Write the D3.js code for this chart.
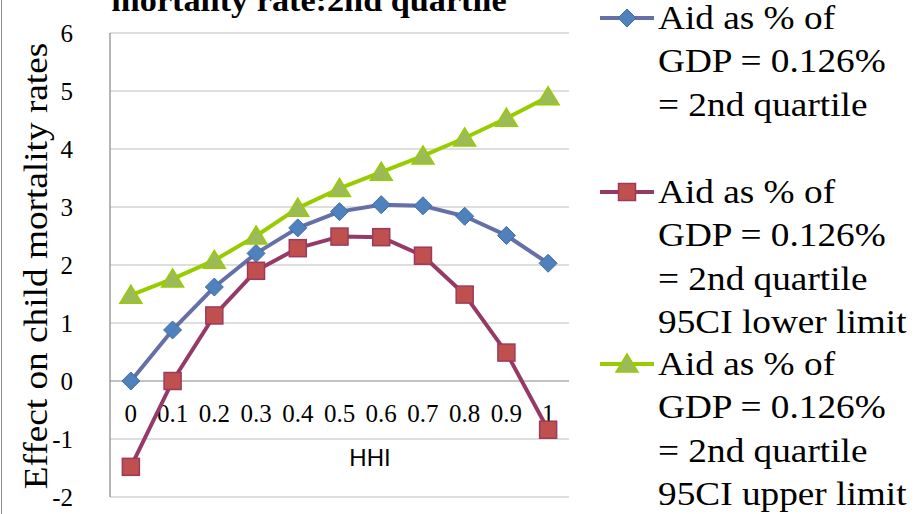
<!DOCTYPE html>
<html><head><meta charset="utf-8">
<script src="https://cdn.jsdelivr.net/npm/d3@7"></script>
<style>body{margin:0;background:#fff}svg{display:block}</style>
</head><body>
<svg id="c" width="922" height="514"></svg>
<script>
const categories = ["0","0.1","0.2","0.3","0.4","0.5","0.6","0.7","0.8","0.9","1"];
const seriesMain  = [0, 0.88, 1.62, 2.20, 2.64, 2.92, 3.04, 3.02, 2.84, 2.51, 2.03];
const seriesLower = [-1.48, 0, 1.13, 1.90, 2.29, 2.49, 2.48, 2.16, 1.49, 0.49, -0.84];
const seriesUpper = [1.48, 1.76, 2.08, 2.50, 2.98, 3.32, 3.60, 3.88, 4.19, 4.53, 4.90];
const yTicks = [-2,-1,0,1,2,3,4,5,6];
const legendLabels = [
  ["Aid as % of","GDP = 0.126%","= 2nd quartile"],
  ["Aid as % of","GDP = 0.126%","= 2nd quartile","95CI lower limit"],
  ["Aid as % of","GDP = 0.126%","= 2nd quartile","95CI upper limit"]
];
const titleText = "mortality rate:2nd quartile";
const yTitle = "Effect on child mortality rates";
const xTitle = "HHI";

const series = [
  {values: seriesMain,  line:"#6670A8", fill:"#4F81BD", stroke:"#3F6CA8", shape:"diamond"},
  {values: seriesLower, line:"#953A66", fill:"#C0504D", stroke:"#9B3A5E", shape:"square"},
  {values: seriesUpper, line:"#99CC00", fill:"#9BBB59", stroke:"#99CC00", shape:"triangle"}
];

const svg = d3.select("#c");
const serif = "'Liberation Serif','Times New Roman',serif";
const L=110, R=569, T=33, B=497;
const x = d3.scaleBand().domain(categories).range([L,R]);
const y = d3.scaleLinear().domain([-2,6]).range([B,T]);
const cx = c => x(c) + x.bandwidth()/2;

// chart border (left edge)
svg.append("line").attr("x1",1.5).attr("x2",1.5).attr("y1",0).attr("y2",514).attr("stroke","#8c8c8c").attr("stroke-width",1);

// gridlines
svg.append("g").selectAll("line").data(yTicks).join("line")
  .attr("x1",L).attr("x2",R).attr("y1",d=>y(d)).attr("y2",d=>y(d))
  .attr("stroke",d=>d===0?"#868686":"#bdbdbd").attr("stroke-width",1.2);
// left axis line
svg.append("line").attr("x1",L).attr("x2",L).attr("y1",T).attr("y2",B).attr("stroke","#868686").attr("stroke-width",1.2);

// y tick labels
svg.append("g").selectAll("text").data(yTicks).join("text")
  .attr("x",73).attr("y",d=>y(d)).attr("dy","0.35em").attr("text-anchor","end")
  .attr("font-family",serif).attr("font-size",25).attr("fill","#000").text(d=>d);

// x tick labels
svg.append("g").selectAll("text").data(categories).join("text")
  .attr("x",d=>cx(d)).attr("y",y(0)+41).attr("text-anchor","middle")
  .attr("font-family",serif).attr("font-size",25).attr("fill","#000").text(d=>d);

// axis titles
svg.append("text").attr("x",370).attr("y",466).attr("text-anchor","middle")
  .attr("font-family","'Liberation Sans',Arial,sans-serif").attr("font-size",24).text(xTitle);
svg.append("text").attr("transform","translate(47,266) rotate(-90) scale(1.13,1)").attr("text-anchor","middle")
  .attr("font-family",serif).attr("font-size",33).text(yTitle);

// title
svg.append("text").attr("transform","translate(309,11) scale(1.07,1)").attr("text-anchor","middle")
  .attr("font-family",serif).attr("font-weight","bold").attr("font-size",32).text(titleText);

function marker(g, shape, s, fill, stroke){
  if(shape==="diamond"){
    g.append("path").attr("d",`M0,${-s}L${s},0L0,${s}L${-s},0Z`).attr("fill",fill).attr("stroke",stroke).attr("stroke-width",1);
  } else if(shape==="square"){
    g.append("rect").attr("x",-s).attr("y",-s).attr("width",2*s).attr("height",2*s).attr("fill",fill).attr("stroke",stroke).attr("stroke-width",1.5);
  } else {
    g.append("path").attr("d",`M0,${-s}L${s*1.1},${s*0.8}L${-s*1.1},${s*0.8}Z`).attr("fill",fill).attr("stroke",stroke).attr("stroke-width",1.5);
  }
}

const line = d3.line().x((d,i)=>cx(categories[i])).y(d=>y(d));
series.forEach(s=>{
  svg.append("path").datum(s.values).attr("d",line).attr("fill","none")
    .attr("stroke",s.line).attr("stroke-width",4).attr("stroke-linejoin","round");
});
const sizes = {diamond:9, square:8.5, triangle:10};
series.forEach(s=>{
  s.values.forEach((v,i)=>{
    const g = svg.append("g").attr("transform",`translate(${cx(categories[i])},${y(v)})`);
    marker(g, s.shape, sizes[s.shape], s.fill, s.stroke);
  });
});

// legend
const legTop = [18,192,364];
const lh = 43.4;
series.forEach((s,k)=>{
  const yy = legTop[k];
  svg.append("line").attr("x1",600).attr("x2",654).attr("y1",yy).attr("y2",yy).attr("stroke",s.line).attr("stroke-width",4);
  const g = svg.append("g").attr("transform",`translate(627,${yy})`);
  marker(g, s.shape, sizes[s.shape], s.fill, s.stroke);
  legendLabels[k].forEach((t,j)=>{
    svg.append("text").attr("transform",`translate(658,${yy+j*lh+11}) scale(1.13,1)`).attr("font-family",serif)
      .attr("font-size",33).attr("fill","#000").text(t);
  });
});
</script>
</body></html>
